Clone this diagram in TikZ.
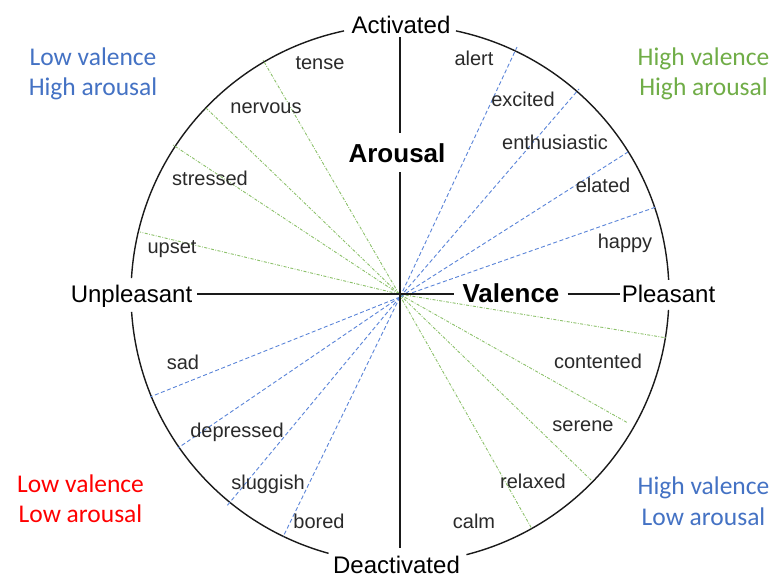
\documentclass[tikz,border=0pt]{standalone}
\usepackage{fontspec}
\setmainfont{Liberation Sans}
\newfontfamily\quadfont{Carlito}
\definecolor{raybluec}{HTML}{5B85D9}
\definecolor{raygreenc}{HTML}{8CC16A}
\definecolor{qblue}{HTML}{4472C4}
\definecolor{qgreen}{HTML}{70AD47}
\definecolor{qred}{HTML}{FF0000}
\definecolor{inkc}{HTML}{1A1A1A}
\definecolor{wordc}{HTML}{2A2A2A}
\begin{document}
\begin{tikzpicture}[x=1pt,y=-1pt,
  axislbl/.style={font=\fontsize{24}{28}\selectfont, text=black, anchor=base},
  axisbold/.style={font=\fontsize{26}{30}\selectfont\bfseries, text=black, anchor=base},
  word/.style={font=\fontsize{20}{24}\selectfont, text=wordc, inner sep=0pt},
  quad/.style={font=\quadfont\fontsize{25.5}{30}\selectfont, anchor=base, inner sep=0pt},
  rim/.style={draw=inkc, line width=1.4pt},
  axisline/.style={draw=inkc, line width=1.5pt},
  blueray/.style={draw=raybluec, line width=0.9pt, dash pattern=on 4pt off 2.5pt},
  greenray/.style={draw=raygreenc, line width=0.9pt, dash pattern=on 3pt off 1.5pt on 0.8pt off 1.5pt}]
\useasboundingbox (0,0) rectangle (771,579);
\fill[white] (0,0) rectangle (771,579);

% centre of the circumplex and convergence points of the rays
\coordinate (o) at (400,294);
\coordinate (ob) at (400,297);
\coordinate (og) at (399,294);

% outer circle, broken at the four pole labels
\draw[rim] (o) ++(-102:269) arc[start angle=-102, end angle=-176.6, radius=269];
\draw[rim] (o) ++(-3:269) arc[start angle=-3, end angle=-78, radius=269];
\draw[rim] (o) ++(3.4:269) arc[start angle=3.4, end angle=75.7, radius=269];
\draw[rim] (o) ++(105.4:269) arc[start angle=105.4, end angle=176.2, radius=269];

% ray end points on the rim
\coordinate (tr1) at (517,47);
\coordinate (tr2) at (579,89);
\coordinate (tr3) at (628,152);
\coordinate (tr4) at (656,207);
\coordinate (bl1) at (150,397);
\coordinate (bl2) at (178,448);
\coordinate (bl3) at (226,507);
\coordinate (bl4) at (283,537);
\coordinate (tl1) at (263,60);
\coordinate (tl2) at (205,107);
\coordinate (tl3) at (173,145);
\coordinate (tl4) at (140,232);
\coordinate (br1) at (667,338);
\coordinate (br2) at (628,423);
\coordinate (br3) at (591,480);
\coordinate (br4) at (532,529);

\foreach \p in {tr1,tr2,tr3,tr4,bl1,bl2,bl3,bl4} \draw[blueray] (ob) -- (\p);
\foreach \p in {tl1,tl2,tl3,tl4,br1,br2,br3,br4} \draw[greenray] (og) -- (\p);

% pole and axis labels
\node[axislbl, inner sep=4pt] (act) at (401,33) {Activated};
\node[axislbl, inner sep=1pt] (deact) at (396.5,573.5) {Deactivated};
\node[axislbl, inner sep=5pt] (unp) at (131.5,302) {Unpleasant};
\node[axislbl, inner sep=2pt] (ple) at (668.5,302) {Pleasant};
\node[axisbold, inner sep=10pt] (aro) at (397,162) {Arousal};
\node[axisbold, inner sep=8pt] (val) at (511,302) {Valence};

% axes
\draw[axisline] (act.south -| o) -- (aro.north -| o);
\draw[axisline, shorten >=7pt] (aro.south -| o) -- (deact.north -| o);
\draw[axisline] (unp.east |- o) -- (val.west |- o);
\draw[axisline] (val.east |- o) -- (ple.west |- o);

% affect words
\node[word] (tense) at (320,63) {tense};
\node[word] (nervous) at (266,108) {nervous};
\node[word] (stressed) at (210,178) {stressed};
\node[word] (upset) at (172,249) {upset};
\node[word] (alert) at (474,58) {alert};
\node[word] (excited) at (523,99) {excited};
\node[word] (enthus) at (555,142) {enthusiastic};
\node[word] (elated) at (603,185) {elated};
\node[word] (happy) at (625,243) {happy};
\node[word] (sad) at (183,362) {sad};
\node[word] (depressed) at (237,432) {depressed};
\node[word] (sluggish) at (268,484) {sluggish};
\node[word] (bored) at (319,521) {bored};
\node[word] (contented) at (598,361) {contented};
\node[word] (serene) at (583,426) {serene};
\node[word] (relaxed) at (533,481) {relaxed};
\node[word] (calm) at (474,521) {calm};

% quadrant captions
\node[quad, text=qblue] (q1a) at (93,65) {Low valence};
\node[quad, text=qblue] (q1b) at (93,95) {High arousal};
\node[quad, text=qgreen] (q2a) at (703.5,65) {High valence};
\node[quad, text=qgreen] (q2b) at (703.5,95) {High arousal};
\node[quad, text=qred] (q3a) at (80.5,492) {Low valence};
\node[quad, text=qred] (q3b) at (80.5,522) {Low arousal};
\node[quad, text=qblue] (q4a) at (703.5,494) {High valence};
\node[quad, text=qblue] (q4b) at (703.5,525) {Low arousal};
\end{tikzpicture}
\end{document}
